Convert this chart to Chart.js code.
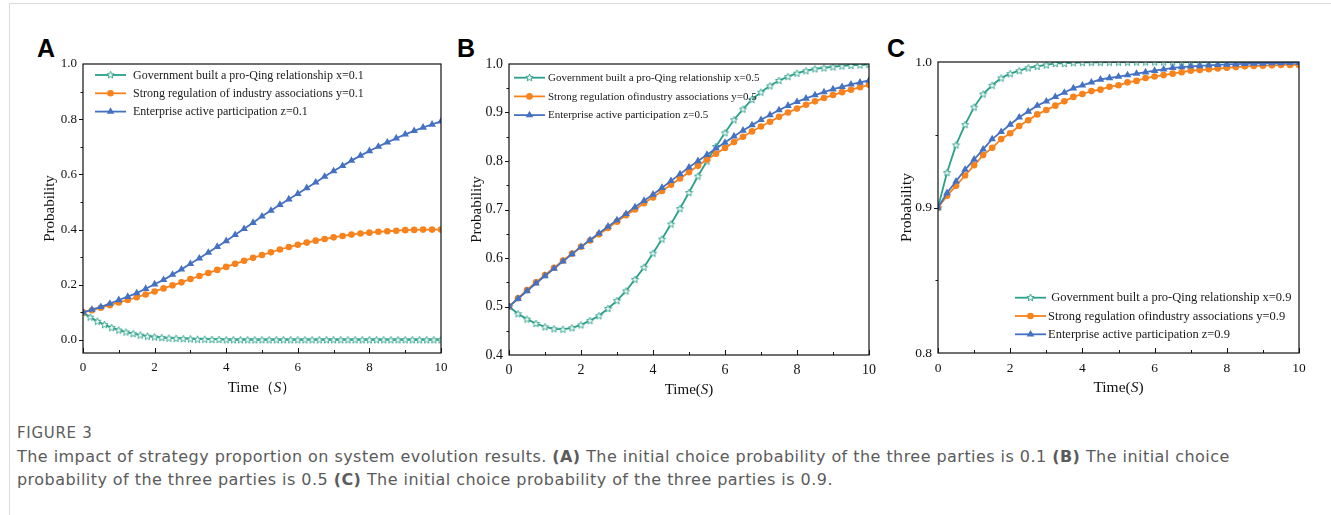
<!DOCTYPE html>
<html lang="en">
<head>
<meta charset="UTF-8">
<title>Figure 3</title>
<style>
  body { margin: 0; background: #fff; width: 1331px; height: 515px; overflow: hidden; position: relative; }
  .box { position: absolute; left: 9px; top: 3px; width: 1330px; height: 520px; border-left: 1px solid #dcdcdc; border-top: 1px solid #dcdcdc; }
  .panel { position: absolute; }
  .letter { position: absolute; font: bold 25px "Liberation Sans", Arial, sans-serif; color: #000; line-height: 1; }
  .caption { position: absolute; left: 17px; top: 421px; font-family: "DejaVu Sans", sans-serif; color: #5b5b5b; }
  .caption .fig { font-size: 15px; line-height: 24px; letter-spacing: 0.7px; }
  .caption .txt { font-size: 16px; line-height: 23px; letter-spacing: 0.45px; white-space: nowrap; }
  .caption b { font-weight: 700; }
</style>
</head>
<body>
<div class="box"></div>

<div class="letter" style="left:37px; top:36px;">A</div>
<div class="letter" style="left:457px; top:36px;">B</div>
<div class="letter" style="left:887px; top:36px;">C</div>

<canvas id="chartA" class="panel" style="left:20px; top:40px;" width="440" height="370"></canvas>
<canvas id="chartB" class="panel" style="left:460px; top:40px;" width="430" height="370"></canvas>
<canvas id="chartC" class="panel" style="left:890px; top:40px;" width="430" height="370"></canvas>

<div class="caption">
  <div class="fig">FIGURE 3</div>
  <div class="txt">The impact of strategy proportion on system evolution results. <b>(A)</b> The initial choice probability of the three parties is 0.1 <b>(B)</b> The initial choice<br>probability of the three parties is 0.5 <b>(C)</b> The initial choice probability of the three parties is 0.9.</div>
</div>

<script src="https://cdn.jsdelivr.net/npm/chart.js"></script>
<script>
  // time steps of the simulation output
  const time = [0, 0.25, 0.5, 0.75, 1, 1.25, 1.5, 1.75, 2, 2.25, 2.5, 2.75, 3, 3.25, 3.5, 3.75, 4, 4.25, 4.5, 4.75,
    5, 5.25, 5.5, 5.75, 6, 6.25, 6.5, 6.75, 7, 7.25, 7.5, 7.75, 8, 8.25, 8.5, 8.75, 9, 9.25, 9.5, 9.75, 10];
  const timeFine = [0, 0.2, 0.4, 0.6, 0.8, 1, 1.2, 1.4, 1.6, 1.8, 2, 2.2, 2.4, 2.6, 2.8, 3, 3.2, 3.4, 3.6, 3.8,
    4, 4.2, 4.4, 4.6, 4.8, 5, 5.2, 5.4, 5.6, 5.8, 6, 6.2, 6.4, 6.6, 6.8, 7, 7.2, 7.4, 7.6, 7.8,
    8, 8.2, 8.4, 8.6, 8.8, 9, 9.2, 9.4, 9.6, 9.8, 10];

  // (A) initial value 0.1
  const govA = [0.100, 0.083, 0.068, 0.056, 0.045, 0.036, 0.029, 0.023, 0.018, 0.014, 0.011, 0.009, 0.007, 0.006, 0.005,
    0.004, 0.003, 0.003, 0.002, 0.002, 0.001, 0.001, 0.001, 0.001, 0.001, 0.001, 0.001, 0.001, 0.001, 0.001,
    0.001, 0.001, 0.001, 0.001, 0.001, 0.001, 0.001, 0.001, 0.001, 0.001, 0.001, 0.001, 0.001, 0.001, 0.001,
    0.001, 0.001, 0.001, 0.001, 0.001, 0.001];
  const regA = [0.100, 0.108, 0.117, 0.126, 0.136, 0.145, 0.155, 0.165, 0.176, 0.187, 0.198, 0.209, 0.221, 0.232,
    0.243, 0.254, 0.265, 0.276, 0.287, 0.298, 0.308, 0.318, 0.328, 0.337, 0.345, 0.353, 0.360, 0.366, 0.372,
    0.377, 0.382, 0.386, 0.389, 0.392, 0.394, 0.396, 0.398, 0.399, 0.400, 0.400, 0.400];
  const entA = [0.100, 0.110, 0.120, 0.132, 0.145, 0.157, 0.170, 0.186, 0.202, 0.218, 0.237, 0.256, 0.276, 0.296,
    0.317, 0.338, 0.359, 0.381, 0.403, 0.425, 0.448, 0.469, 0.490, 0.510, 0.530, 0.551, 0.571, 0.592, 0.612,
    0.631, 0.650, 0.668, 0.685, 0.701, 0.716, 0.731, 0.745, 0.758, 0.770, 0.781, 0.792];

  // (B) initial value 0.5
  const govB = [0.500, 0.485, 0.474, 0.465, 0.458, 0.454, 0.453, 0.456, 0.462, 0.471, 0.481, 0.496, 0.512, 0.532,
    0.556, 0.581, 0.610, 0.639, 0.670, 0.702, 0.735, 0.769, 0.800, 0.830, 0.858, 0.885, 0.907, 0.927, 0.942,
    0.955, 0.966, 0.974, 0.981, 0.986, 0.990, 0.992, 0.994, 0.996, 0.997, 0.998, 0.999];
  const regB = [0.500, 0.517, 0.534, 0.550, 0.565, 0.580, 0.595, 0.609, 0.623, 0.636, 0.649, 0.662, 0.675, 0.688,
    0.700, 0.713, 0.725, 0.738, 0.751, 0.764, 0.777, 0.790, 0.803, 0.815, 0.827, 0.839, 0.850, 0.861, 0.871,
    0.881, 0.891, 0.900, 0.908, 0.916, 0.923, 0.930, 0.936, 0.942, 0.947, 0.952, 0.957];
  const entB = [0.500, 0.516, 0.532, 0.548, 0.563, 0.578, 0.593, 0.608, 0.623, 0.637, 0.651, 0.665, 0.678, 0.691,
    0.705, 0.718, 0.731, 0.745, 0.759, 0.773, 0.787, 0.800, 0.813, 0.826, 0.838, 0.851, 0.863, 0.874, 0.885,
    0.895, 0.905, 0.914, 0.922, 0.929, 0.936, 0.942, 0.948, 0.953, 0.958, 0.962, 0.966];

  // (C) initial value 0.9
  const govC = [0.900, 0.924, 0.943, 0.957, 0.969, 0.978, 0.984, 0.989, 0.992, 0.994, 0.996, 0.997, 0.998, 0.999,
    0.999, 0.9995, 0.9997, 0.9998, 0.9998, 0.9999, 0.9999, 0.9999, 1.000, 1.000, 1.000, 1.000, 1.000, 1.000,
    1.000, 1.000, 1.000, 1.000, 1.000, 1.000, 1.000, 1.000, 1.000, 1.000, 1.000, 1.000, 1.000];
  const regC = [0.900, 0.908, 0.915, 0.922, 0.929, 0.936, 0.941, 0.947, 0.951, 0.956, 0.960, 0.964, 0.967, 0.970,
    0.973, 0.976, 0.978, 0.980, 0.981, 0.983, 0.984, 0.986, 0.987, 0.989, 0.990, 0.991, 0.992, 0.993, 0.994,
    0.9945, 0.995, 0.9955, 0.996, 0.9965, 0.997, 0.9972, 0.9975, 0.9977, 0.998, 0.998, 0.998];
  const entC = [0.900, 0.910, 0.918, 0.926, 0.933, 0.940, 0.947, 0.952, 0.957, 0.962, 0.966, 0.970, 0.973, 0.976,
    0.979, 0.982, 0.984, 0.986, 0.988, 0.989, 0.990, 0.991, 0.992, 0.993, 0.994, 0.995, 0.996, 0.9965, 0.997,
    0.9973, 0.9977, 0.998, 0.9983, 0.9985, 0.9987, 0.9989, 0.999, 0.9992, 0.9993, 0.9994, 0.9995];

  const labelsA = ['Government built a pro-Qing relationship x=0.1', 'Strong regulation of industry associations y=0.1', 'Enterprise active participation z=0.1'];
  const labelsB = ['Government built a pro-Qing relationship x=0.5', 'Strong regulation ofindustry associations y=0.5', 'Enterprise active participation z=0.5'];
  const labelsC = [' Government built a pro-Qing relationship x=0.9', 'Strong regulation ofindustry associations y=0.9', 'Enterprise active participation z=0.9'];

  const xTicks = [0, 2, 4, 6, 8, 10];
  const yTicksA = [0, 0.2, 0.4, 0.6, 0.8, 1.0];
  const yTicksB = [0.4, 0.5, 0.6, 0.7, 0.8, 0.9, 1.0];
  const yTicksC = [0.8, 0.9, 1.0];

  const GREEN = '#2a9f89';
  const ORANGE = '#f8821c';
  const BLUE = '#4571c2';
  const SERIF = '"Liberation Serif", "Times New Roman", serif';

  // hollow five-point star like the Origin marker
  function makeStar() {
    const c = document.createElement('canvas');
    c.width = 9; c.height = 9;
    const g = c.getContext('2d');
    g.beginPath();
    for (let i = 0; i < 10; i++) {
      const r = i % 2 ? 1.7 : 3.8;
      const ang = -Math.PI / 2 + i * Math.PI / 5;
      g.lineTo(4.5 + r * Math.cos(ang), 4.8 + r * Math.sin(ang));
    }
    g.closePath();
    g.fillStyle = '#eef8f5';
    g.fill();
    g.strokeStyle = GREEN;
    g.lineWidth = 0.9;
    g.stroke();
    return c;
  }
  const star = makeStar();

  function drawMarker(ctx, kind, x, y, color) {
    ctx.fillStyle = color;
    if (kind === 'star') {
      ctx.drawImage(star, x - 4.5, y - 4.8);
    } else if (kind === 'circle') {
      ctx.beginPath();
      ctx.arc(x, y, 3.3, 0, Math.PI * 2);
      ctx.fill();
    } else {
      const r = 4.4;
      ctx.beginPath();
      ctx.moveTo(x, y - r);
      ctx.lineTo(x + r * 0.866, y + r * 0.5);
      ctx.lineTo(x - r * 0.866, y + r * 0.5);
      ctx.closePath();
      ctx.fill();
    }
  }

  // frame, ticks, axis titles and the in-plot legend
  const panelDecor = {
    id: 'panelDecor',
    afterDraw(chart, args, o) {
      const { ctx, chartArea: a, scales: { x, y } } = chart;
      ctx.save();
      ctx.strokeStyle = '#111';
      ctx.lineWidth = 1.2;
      ctx.strokeRect(a.left, a.top, a.right - a.left, a.bottom - a.top);

      // x ticks point into the plot, y ticks point outwards
      ctx.lineWidth = 1;
      ctx.beginPath();
      for (let v = 0; v <= 10; v += 1) {
        const px = Math.round(x.getPixelForValue(v)) + 0.5;
        const len = v % 2 === 0 ? 5 : 3;
        ctx.moveTo(px, a.bottom);
        ctx.lineTo(px, a.bottom - len);
      }
      o.yMajor.forEach(v => {
        const py = Math.round(y.getPixelForValue(v)) + 0.5;
        ctx.moveTo(a.left, py);
        ctx.lineTo(a.left - 4, py);
      });
      o.yMinor.forEach(v => {
        const py = Math.round(y.getPixelForValue(v)) + 0.5;
        ctx.moveTo(a.left, py);
        ctx.lineTo(a.left - 2.5, py);
      });
      ctx.stroke();

      // x title with italic S
      ctx.fillStyle = '#111';
      ctx.textBaseline = 'middle';
      ctx.textAlign = 'left';
      const tf = o.titleSize + 'px ' + SERIF;
      const tfi = 'italic ' + tf;
      ctx.font = tf;
      const w1 = ctx.measureText(o.xPre).width;
      const w3 = ctx.measureText(o.xPost).width;
      ctx.font = tfi;
      const w2 = ctx.measureText('S').width;
      let tx = (a.left + a.right) / 2 - (w1 + w2 + w3) / 2;
      const ty = a.bottom + o.xTitleGap;
      ctx.font = tf; ctx.fillText(o.xPre, tx, ty); tx += w1;
      ctx.font = tfi; ctx.fillText('S', tx, ty); tx += w2;
      ctx.font = tf; ctx.fillText(o.xPost, tx, ty);

      // y title
      ctx.save();
      ctx.translate(a.left - o.yTitleGap, (a.top + a.bottom) / 2);
      ctx.rotate(-Math.PI / 2);
      ctx.textAlign = 'center';
      ctx.font = tf;
      ctx.fillText('Probability', 0, 0);
      ctx.restore();

      // legend
      const lx = a.left + o.legend.dx;
      const ly = o.legend.fromBottom ? a.bottom - o.legend.dy : a.top + o.legend.dy;
      ctx.font = o.legend.size + 'px ' + SERIF;
      ctx.textAlign = 'left';
      chart.data.datasets.forEach((ds, i) => {
        const yy = ly + i * o.legend.step;
        ctx.strokeStyle = ds.borderColor;
        ctx.lineWidth = 1.8;
        ctx.beginPath();
        ctx.moveTo(lx, yy);
        ctx.lineTo(lx + 31, yy);
        ctx.stroke();
        drawMarker(ctx, ds.marker, lx + 15.5, yy, ds.borderColor);
        ctx.fillStyle = '#1a1a1a';
        ctx.fillText(ds.label, lx + 31 + o.legend.gap, yy + 0.5);
      });
      ctx.restore();
    }
  };

  function series(label, xs, ys, color, marker, order) {
    return {
      label: label,
      data: xs.map((t, i) => ({ x: t, y: ys[i] })),
      borderColor: color,
      backgroundColor: color,
      borderWidth: 1.8,
      pointRadius: marker === 'circle' ? 3.3 : 4.4,
      pointBorderWidth: 0,
      pointBackgroundColor: color,
      pointStyle: marker === 'star' ? star : marker,
      tension: 0,
      order: order,
      marker: marker
    };
  }

  function makeChart(id, datasets, p) {
    return new Chart(document.getElementById(id), {
      type: 'line',
      data: { datasets: datasets },
      plugins: [panelDecor],
      options: {
        responsive: false,
        animation: false,
        events: [],
        layout: { padding: p.padding, autoPadding: false },
        plugins: {
          legend: { display: false },
          tooltip: { enabled: false },
          panelDecor: p.decor
        },
        scales: {
          x: {
            type: 'linear', min: 0, max: 10,
            afterBuildTicks: s => { s.ticks = xTicks.map(v => ({ value: v })); },
            afterFit: s => { s.height = p.xHeight; },
            grid: { display: false, drawTicks: false },
            border: { display: false },
            ticks: { padding: 7, color: '#111', font: { family: SERIF, size: p.tickSize }, maxRotation: 0, callback: v => String(v) }
          },
          y: {
            type: 'linear', min: p.yMin, max: p.yMax,
            afterBuildTicks: s => { s.ticks = p.yTicks.map(v => ({ value: v })); },
            afterFit: s => { s.width = p.yWidth; },
            grid: { display: false, drawTicks: false },
            border: { display: false },
            ticks: { padding: 6, color: '#111', font: { family: SERIF, size: p.tickSize }, callback: v => Number(v).toFixed(1) }
          }
        }
      }
    });
  }

  makeChart('chartA', [
    series(labelsA[0], timeFine, govA, GREEN, 'star', 2),
    series(labelsA[1], time, regA, ORANGE, 'circle', 1),
    series(labelsA[2], time, entA, BLUE, 'triangle', 0)
  ], {
    padding: { top: 24, right: 19, left: 0, bottom: 0 },
    xHeight: 57, yWidth: 63, yMin: -0.047, yMax: 1.0, yTicks: yTicksA, tickSize: 13,
    decor: {
      yMajor: [0, 0.2, 0.4, 0.6, 0.8], yMinor: [0.1, 0.3, 0.5, 0.7, 0.9],
      titleSize: 15, xPre: 'Time\uFF08', xPost: '\uFF09', xTitleGap: 35, yTitleGap: 33,
      legend: { dx: 12, dy: 11, step: 18.3, size: 12, gap: 7, fromBottom: false }
    }
  });

  makeChart('chartB', [
    series(labelsB[0], time, govB, GREEN, 'star', 2),
    series(labelsB[1], time, regB, ORANGE, 'circle', 1),
    series(labelsB[2], time, entB, BLUE, 'triangle', 0)
  ], {
    padding: { top: 24, right: 21, left: 0, bottom: 0 },
    xHeight: 55, yWidth: 49, yMin: 0.4, yMax: 1.0, yTicks: yTicksB, tickSize: 14,
    decor: {
      yMajor: [0.5, 0.6, 0.7, 0.8, 0.9], yMinor: [0.45, 0.55, 0.65, 0.75, 0.85, 0.95],
      titleSize: 15, xPre: 'Time(', xPost: ')', xTitleGap: 35, yTitleGap: 32,
      legend: { dx: 5, dy: 13.7, step: 18.7, size: 11, gap: 3, fromBottom: false }
    }
  });

  makeChart('chartC', [
    series(labelsC[0], time, govC, GREEN, 'star', 2),
    series(labelsC[1], time, regC, ORANGE, 'circle', 1),
    series(labelsC[2], time, entC, BLUE, 'triangle', 0)
  ], {
    padding: { top: 22, right: 21, left: 0, bottom: 0 },
    xHeight: 57, yWidth: 48, yMin: 0.8, yMax: 1.0, yTicks: yTicksC, tickSize: 13.5,
    decor: {
      yMajor: [0.9], yMinor: [0.85, 0.95],
      titleSize: 15.5, xPre: 'Time(', xPost: ')', xTitleGap: 35, yTitleGap: 31,
      legend: { dx: 77, dy: 55.3, step: 18.3, size: 12.5, gap: 2, fromBottom: true }
    }
  });
</script>
</body>
</html>
